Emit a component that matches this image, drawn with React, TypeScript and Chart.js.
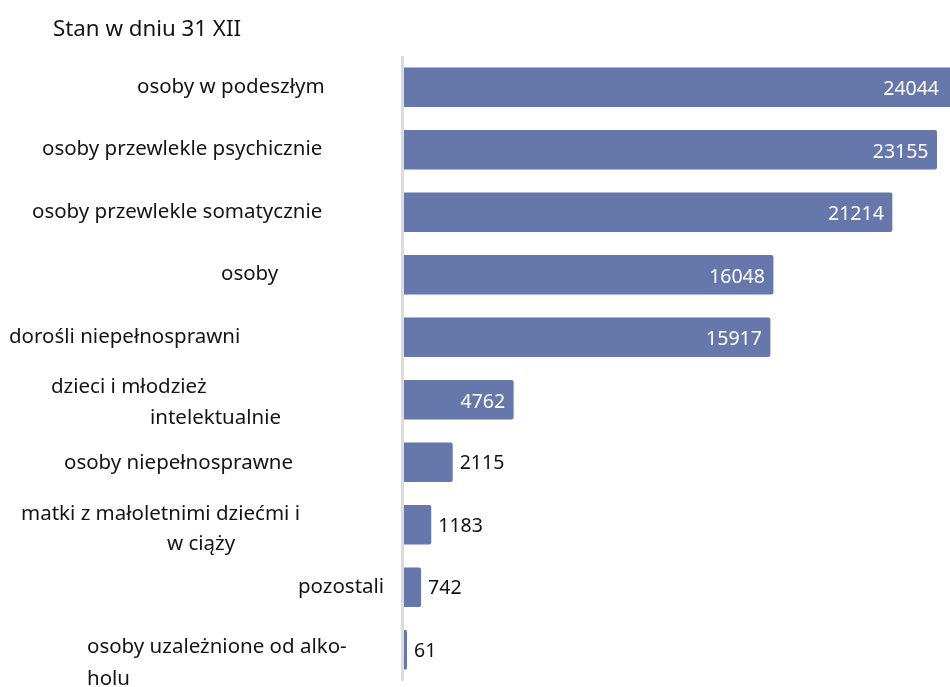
import React, { useEffect, useRef } from 'react';
import { Chart, registerables } from 'chart.js';

Chart.register(...registerables);

// ---- data ----
const chartTitle = 'Stan w dniu 31 XII';
const categories: string[][] = [
  ['osoby w podeszłym'],
  ['osoby przewlekle psychicznie'],
  ['osoby przewlekle somatycznie'],
  ['osoby'],
  ['dorośli niepełnosprawni'],
  ['dzieci i młodzież', 'intelektualnie'],
  ['osoby niepełnosprawne'],
  ['matki z małoletnimi dziećmi i', 'w ciąży'],
  ['pozostali'],
  ['osoby uzależnione od alko-', 'holu'],
];
const values = [24044, 23155, 21214, 16048, 15917, 4762, 2115, 1183, 742, 61];
const xMax = 23720;

// ---- layout / style (not data) ----
// per label line: [left x, vertical offset from the category centre]
const LABEL_LINE_POS: [number, number][][] = [
  [[137, 0]],
  [[42, 0]],
  [[32, 0]],
  [[221, 0]],
  [[9, 0]],
  [[51, -12], [150, 19]],
  [[64, 1]],
  [[21, -10], [167, 20]],
  [[298, 0]],
  [[87, -2], [87, 30]],
];

const FONT = '"Noto Sans", sans-serif';
const BAR_COLOR = '#6577ab';
const TEXT_COLOR = '#141414';

const titlePlugin = {
  id: 'customTitle',
  afterDraw(chart: any) {
    const { ctx } = chart;
    ctx.save();
    ctx.font = `22.3px ${FONT}`;
    ctx.fillStyle = TEXT_COLOR;
    ctx.textAlign = 'left';
    ctx.textBaseline = 'alphabetic';
    ctx.fillText(chartTitle, 53, 36);
    ctx.restore();
  },
};

const axisLine = {
  id: 'axisLine',
  beforeDatasetsDraw(chart: any) {
    const { ctx, chartArea } = chart;
    ctx.save();
    ctx.fillStyle = '#dcdcdc';
    ctx.fillRect(chartArea.left - 3, chartArea.top, 3, chartArea.bottom - chartArea.top);
    ctx.restore();
  },
};

const categoryLabels = {
  id: 'categoryLabels',
  afterDraw(chart: any) {
    const { ctx } = chart;
    const yScale = chart.scales.y;
    ctx.save();
    ctx.font = `20.5px ${FONT}`;
    ctx.fillStyle = TEXT_COLOR;
    ctx.textAlign = 'left';
    ctx.textBaseline = 'alphabetic';
    categories.forEach((lines, i) => {
      const cy = yScale.getPixelForValue(i);
      lines.forEach((line, j) => {
        const [lx, dy] = LABEL_LINE_POS[i][j];
        ctx.fillText(line, lx, cy + dy + 5.5);
      });
    });
    ctx.restore();
  },
};

const valueLabels = {
  id: 'valueLabels',
  afterDatasetsDraw(chart: any) {
    const { ctx, chartArea } = chart;
    const meta = chart.getDatasetMeta(0);
    ctx.save();
    ctx.font = `19.5px ${FONT}`;
    ctx.textBaseline = 'alphabetic';
    meta.data.forEach((bar: any, i: number) => {
      const text = String(values[i]);
      const w = ctx.measureText(text).width;
      const end = Math.min(bar.x, chartArea.right);
      const width = end - bar.base;
      if (width > w + 16) {
        ctx.fillStyle = '#ffffff';
        ctx.textAlign = 'right';
        ctx.fillText(text, Math.min(bar.x - 8.5, chartArea.right - 11), bar.y + 8);
      } else {
        ctx.fillStyle = '#111111';
        ctx.textAlign = 'left';
        ctx.fillText(text, bar.x + 7, bar.y + 7);
      }
    });
    ctx.restore();
  },
};

export default function App() {
  const ref = useRef<HTMLCanvasElement | null>(null);
  useEffect(() => {
    if (!ref.current) return;
    const chart = new Chart(ref.current, {
      type: 'bar',
      data: {
        labels: categories.map((c) => c.join(' ')),
        datasets: [
          {
            data: values,
            backgroundColor: BAR_COLOR,
            borderRadius: 2,
            borderSkipped: 'start',
            barPercentage: 0.63,
            categoryPercentage: 1,
            minBarLength: 3,
          },
        ],
      },
      options: {
        indexAxis: 'y',
        responsive: false,
        maintainAspectRatio: false,
        animation: false,
        layout: { autoPadding: false, padding: { top: 56, bottom: 6, left: 0, right: 0 } },
        plugins: {
          legend: { display: false },
          title: { display: false },
          tooltip: { enabled: false },
        },
        scales: {
          x: { display: false, min: 0, max: xMax },
          y: {
            afterFit(scale: any) {
              scale.width = 404;
              scale.paddingTop = 0;
              scale.paddingBottom = 0;
            },
            grid: { display: false },
            border: { display: false },
            ticks: { display: false },
          },
        },
      },
      plugins: [axisLine, titlePlugin, categoryLabels, valueLabels],
    });
    return () => chart.destroy();
  }, []);
  return (
    <div style={{ position: 'fixed', left: 0, top: 0, width: 950, height: 687, background: '#fff' }}>
      <canvas ref={ref} width={950} height={687} style={{ display: 'block' }} />
    </div>
  );
}
